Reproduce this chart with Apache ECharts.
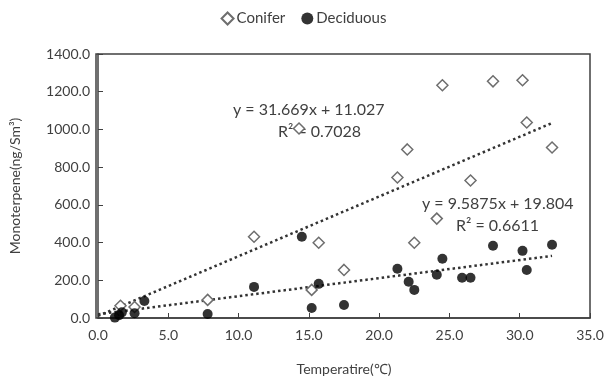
<!DOCTYPE html>
<html><head><meta charset="utf-8">
<script src="https://cdn.jsdelivr.net/npm/echarts@6/dist/echarts.min.js"></script>
<style>html,body{margin:0;padding:0;background:#fff}#c{width:607px;height:384px}</style>
</head><body><div id="c"></div>
<script>
const coniferX = [1.6, 2.6, 7.8, 11.1, 14.3, 15.2, 15.7, 17.5, 21.3, 22.0, 22.5, 24.1, 24.5, 26.5, 28.1, 30.2, 30.5, 32.3];
const coniferY = [65, 58, 96, 431, 1005, 149, 399, 255, 745, 894, 399, 527, 1234, 729, 1255, 1261, 1037, 904];
const deciduousX = [1.2, 1.5, 1.7, 2.6, 3.3, 7.8, 11.1, 14.5, 15.2, 15.7, 17.5, 21.3, 22.1, 22.5, 24.1, 24.5, 25.9, 26.5, 28.1, 30.2, 30.5, 32.3];
const deciduousY = [2, 15, 30, 25, 90, 21, 165, 431, 53, 181, 69, 261, 192, 149, 229, 314, 213, 213, 383, 356, 255, 388];
const trendConifer = [31.669, 11.027];     // slope, intercept
const trendDeciduous = [9.5875, 19.804];
const trendRange = [0, 32.3];
const eqConifer = ['y = 31.669x + 11.027', 'R² = 0.7028'];
const eqDeciduous = ['y = 9.5875x + 19.804', 'R² = 0.6611'];
const xTicks = {min: 0, max: 35, interval: 5};
const yTicks = {min: 0, max: 1400, interval: 200};

const zip = (a, b) => a.map((v, i) => [v, b[i]]);
const line = (c) => trendRange.map(x => [x, c[0] * x + c[1]]);
const FONT = 'Lato';
const TXT = '#404040';

const chart = echarts.init(document.getElementById('c'));
chart.setOption({
  animation: false,
  textStyle: {fontFamily: FONT},
  legend: {
    top: 6, left: 'center', itemGap: 16, itemWidth: 12, itemHeight: 12,
    textStyle: {fontFamily: FONT, fontSize: 15, color: TXT, padding: [0, 0, 0, -2]},
    data: ['Conifer', 'Deciduous']
  },
  grid: {left: 96, right: 17, top: 54, bottom: 66},
  xAxis: {
    type: 'value', min: xTicks.min, max: xTicks.max, interval: xTicks.interval,
    name: 'Temperatire(℃)', nameLocation: 'middle', nameGap: 44,
    nameTextStyle: {fontFamily: FONT, fontSize: 14, color: TXT},
    axisLine: {show: true, lineStyle: {color: '#404040', width: 1.5}},
    axisTick: {show: true, inside: true, length: 5, lineStyle: {color: '#404040'}},
    axisLabel: {fontFamily: FONT, fontSize: 14, color: TXT, margin: 10, formatter: v => v.toFixed(1)},
    splitLine: {show: false}
  },
  yAxis: {
    type: 'value', min: yTicks.min, max: yTicks.max, interval: yTicks.interval,
    name: 'Monoterpene(ng/Sm³)', nameLocation: 'middle', nameGap: 76,
    nameTextStyle: {fontFamily: FONT, fontSize: 14, color: TXT},
    axisLine: {show: true, lineStyle: {color: '#404040', width: 1.5}},
    axisTick: {show: true, inside: true, length: 5, lineStyle: {color: '#404040'}},
    axisLabel: {fontFamily: FONT, fontSize: 14, color: TXT, margin: 8, formatter: v => v.toFixed(1)},
    splitLine: {show: false}
  },
  graphic: [
    {type: 'rect', shape: {x: 96, y: 54, width: 494, height: 264}, style: {fill: 'none', stroke: '#404040', lineWidth: 1.5}, silent: true, z: 0},
    {type: 'text', left: 233, top: 102, style: {text: eqConifer[0], font: '16px Lato', fill: TXT}},
    {type: 'text', left: 278, top: 124, style: {text: eqConifer[1], font: '16px Lato', fill: TXT}},
    {type: 'text', left: 422, top: 196, style: {text: eqDeciduous[0], font: '16px Lato', fill: TXT}},
    {type: 'text', left: 456, top: 218, style: {text: eqDeciduous[1], font: '16px Lato', fill: TXT}}
  ],
  series: [
    {name: 'Conifer', type: 'scatter', symbol: 'diamond', symbolSize: 11,
     itemStyle: {color: '#ffffff', borderColor: '#6e6e6e', borderWidth: 1.5, opacity: 1},
     data: zip(coniferX, coniferY), z: 3},
    {name: 'Deciduous', type: 'scatter', symbol: 'circle', symbolSize: 10,
     itemStyle: {color: '#000000'},
     data: zip(deciduousX, deciduousY), z: 4},
    {name: 'trendC', type: 'line', data: line(trendConifer), showSymbol: false, symbol: 'none', silent: true,
     lineStyle: {type: [2.5, 3], width: 2.5, color: '#333333'}, z: 2},
    {name: 'trendD', type: 'line', data: line(trendDeciduous), showSymbol: false, symbol: 'none', silent: true,
     lineStyle: {type: [2.5, 3], width: 2.5, color: '#333333'}, z: 2}
  ]
});
</script></body></html>
